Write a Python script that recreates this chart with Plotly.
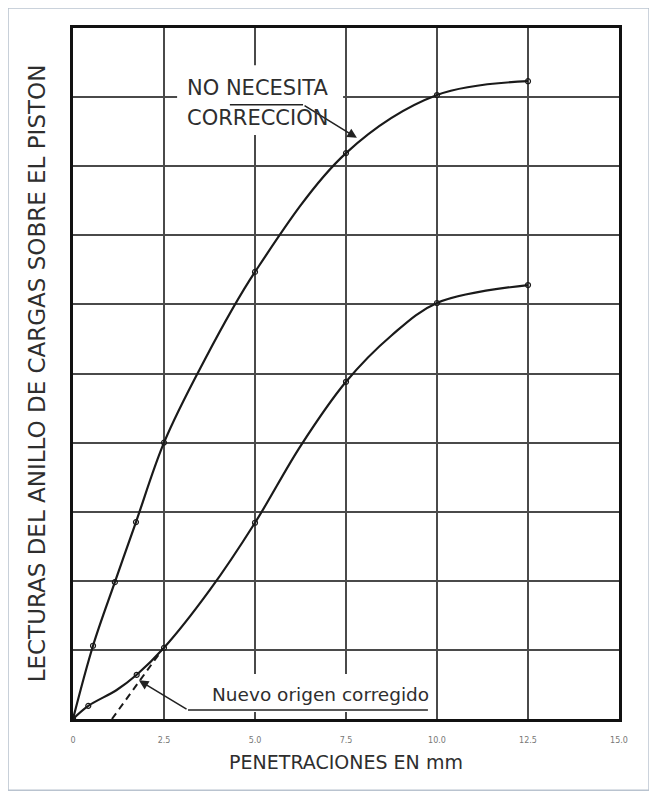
import plotly.graph_objects as go

# ---- data ----
# measured points (small open circles)
x_upper_pts = [0, 0.55, 1.15, 1.73, 2.5, 5.0, 7.5, 10.0, 12.5]
y_upper_pts = [0, 1.06, 1.98, 2.85, 4.0, 6.47, 8.19, 9.03, 9.23]
x_lower_pts = [0, 0.42, 1.75, 2.5, 5.0, 7.5, 10.0, 12.5]
y_lower_pts = [0, 0.19, 0.64, 1.03, 2.84, 4.88, 6.02, 6.28]

# path of the drawn curves
x_upper_curve = [0, 0.55, 1.15, 1.73, 2.5, 3.5, 5.0, 7.5, 10.0, 12.5]
y_upper_curve = [0, 1.06, 1.98, 2.85, 4.0, 5.08, 6.47, 8.19, 9.03, 9.23]
x_lower_curve = [0, 0.42, 1.2, 1.75, 2.5, 3.75, 5.0, 6.25, 7.5, 8.75, 10.0, 12.5]
y_lower_curve = [0, 0.19, 0.42, 0.64, 1.03, 1.86, 2.84, 3.95, 4.88, 5.55, 6.02, 6.28]

x_dash = [1.07, 2.35]
y_dash = [0.0, 0.93]

x_tickvals = [0, 2.5, 5.0, 7.5, 10.0, 12.5, 15.0]
x_ticktext = ["0", "2.5", "5.0", "7.5", "10.0", "12.5", "15.0"]

label_upper = ["NO NECESITA", "CORRECCION"]
label_lower = "Nuevo origen corregido"
x_title = "PENETRACIONES EN mm"
y_title = "LECTURAS DEL ANILLO DE CARGAS SOBRE EL PISTON"

FONT = "DejaVu Sans"
TXT = "#2e2e2e"
GRID = "#4a4a4a"
INK = "#1a1a1a"

fig = go.Figure()

for xc, yc in [(x_upper_curve, y_upper_curve), (x_lower_curve, y_lower_curve)]:
    fig.add_trace(go.Scatter(
        x=xc, y=yc, mode="lines", line=dict(color=INK, width=2.2, shape="spline", smoothing=1.0),
        showlegend=False, hoverinfo="skip"))
for xp, yp in [(x_upper_pts, y_upper_pts), (x_lower_pts, y_lower_pts)]:
    fig.add_trace(go.Scatter(
        x=xp, y=yp, mode="markers",
        marker=dict(symbol="circle-open", size=5, color=INK, line=dict(width=1.2)),
        showlegend=False, hoverinfo="skip"))
fig.add_trace(go.Scatter(
    x=x_dash, y=y_dash, mode="lines", line=dict(color=INK, width=2, dash="7px,5px"),
    showlegend=False, hoverinfo="skip"))

# white boxes behind the labels (cover the grid, below the traces)
fig.add_shape(type="rect", xref="x", yref="y", x0=2.86, x1=7.42, y0=8.45, y1=9.46,
              fillcolor="white", line=dict(width=0), layer="between")
fig.add_shape(type="rect", xref="x", yref="y", x0=2.94, x1=9.86, y0=0.10, y1=0.65,
              fillcolor="white", line=dict(width=0), layer="between")

# leader lines
fig.add_shape(type="line", xref="x", yref="y", x0=4.31, x1=6.32, y0=8.89, y1=8.89,
              line=dict(color="#222", width=1.6))
fig.add_shape(type="line", xref="x", yref="y", x0=3.16, x1=9.75, y0=0.13, y1=0.13,
              line=dict(color="#222", width=1.6))

fig.add_annotation(x=7.80, y=8.41, ax=6.32, ay=8.89, xref="x", yref="y", axref="x", ayref="y",
                   text="", showarrow=True, arrowhead=2, arrowsize=1.2, arrowwidth=1.6, arrowcolor="#222")
fig.add_annotation(x=1.81, y=0.56, ax=3.16, ay=0.13, xref="x", yref="y", axref="x", ayref="y",
                   text="", showarrow=True, arrowhead=2, arrowsize=1.2, arrowwidth=1.6, arrowcolor="#222")

fig.add_annotation(x=5.08, y=9.13, xref="x", yref="y", text=label_upper[0], showarrow=False,
                   font=dict(family=FONT, size=21, color=TXT))
fig.add_annotation(x=5.08, y=8.70, xref="x", yref="y", text=label_upper[1], showarrow=False,
                   font=dict(family=FONT, size=21, color=TXT))
fig.add_annotation(x=6.81, y=0.35, xref="x", yref="y", text=label_lower, showarrow=False,
                   font=dict(family=FONT, size=18.5, color=TXT))

# outer frame
fig.add_shape(type="rect", xref="paper", yref="paper", x0=-0.119, x1=1.055, y0=-0.103, y1=1.029,
              line=dict(color="#b9c3cf", width=1.5), fillcolor="rgba(0,0,0,0)", layer="below")

fig.update_xaxes(range=[0, 15], tickvals=x_tickvals, ticktext=x_ticktext,
                 showgrid=True, gridcolor=GRID, gridwidth=1.5,
                 showline=True, linecolor="#111", linewidth=2.5, mirror=True,
                 zeroline=False, ticks="", ticklabelstandoff=12,
                 tickfont=dict(family=FONT, size=8, color="#777"),
                 title=dict(text=x_title, font=dict(family=FONT, size=19, color=TXT), standoff=12))
fig.update_yaxes(range=[0, 10], dtick=1, showticklabels=False,
                 showgrid=True, gridcolor=GRID, gridwidth=1.5,
                 showline=True, linecolor="#111", linewidth=2.5, mirror=True,
                 zeroline=False, ticks="",
                 title=dict(text=y_title, font=dict(family=FONT, size=23, color=TXT), standoff=19))

fig.update_layout(width=657, height=797, margin=dict(l=65, r=46, t=20, b=86, autoexpand=False),
                  paper_bgcolor="white", plot_bgcolor="white")

fig.write_html("out.html")
